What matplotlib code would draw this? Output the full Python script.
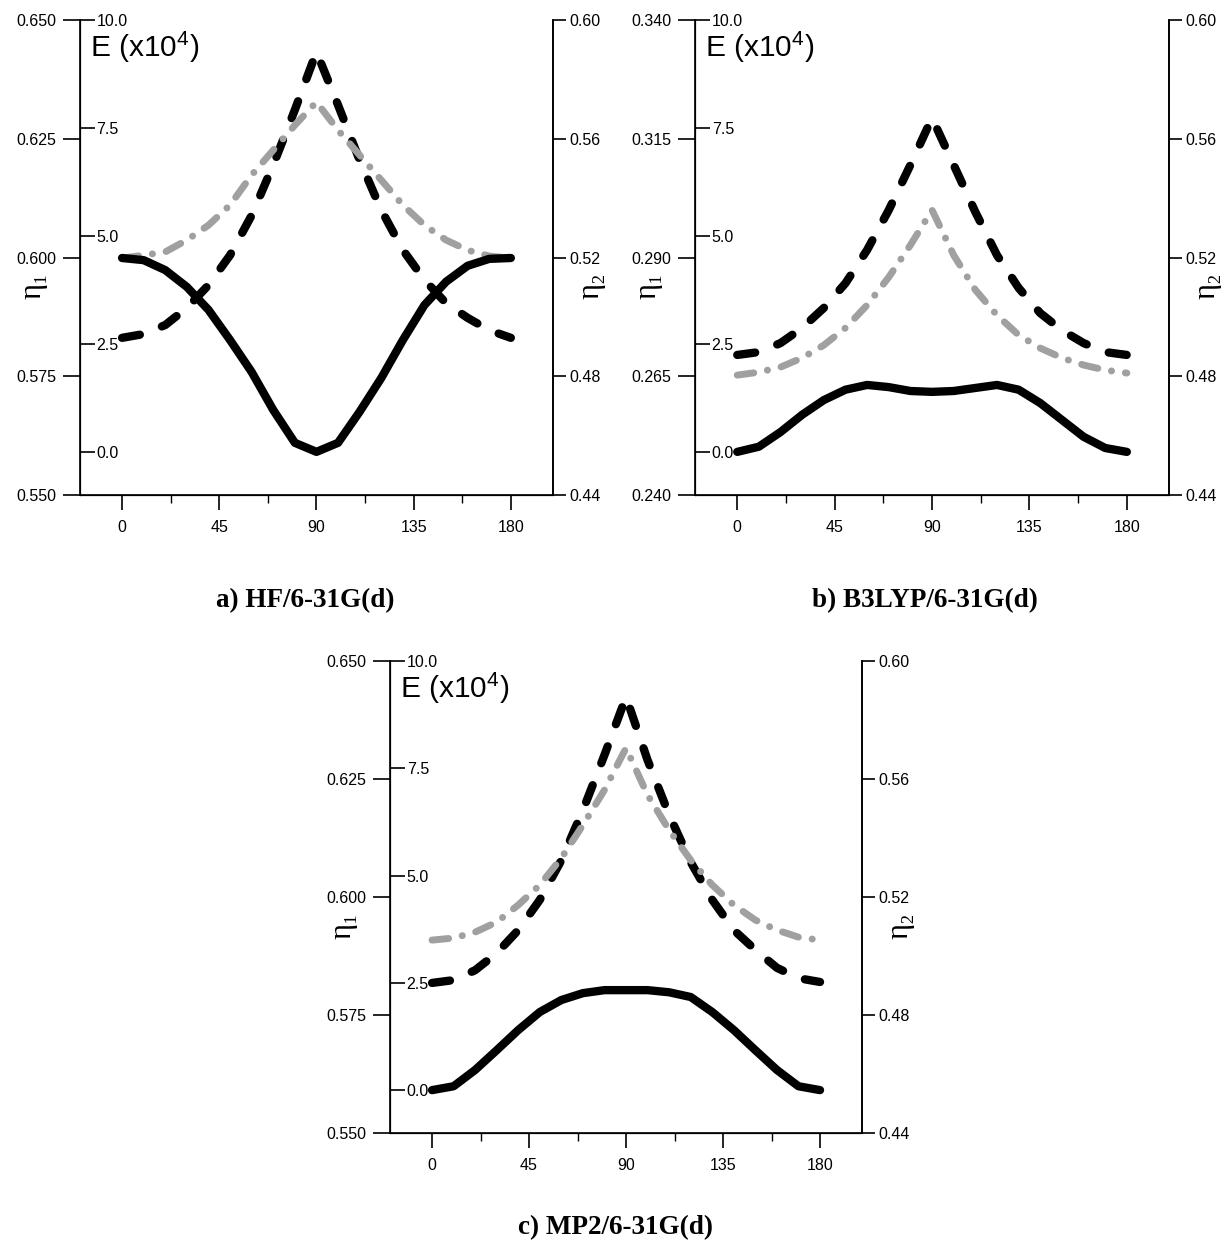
import numpy as np
import matplotlib
matplotlib.use("Agg")
import matplotlib.pyplot as plt
from matplotlib.ticker import FormatStrFormatter, MultipleLocator

plt.rcParams['font.family'] = ['Liberation Sans', 'DejaVu Sans']
plt.rcParams['mathtext.default'] = 'regular'
plt.rcParams['lines.scale_dashes'] = False

# DATA ---------------------------------------------------------------------------------------------
angle = [0, 10, 20, 30, 40, 50, 60, 70, 80, 90, 100, 110, 120, 130, 140, 150, 160, 170, 180]
angle_ticks = [0, 45, 90, 135, 180]
e_ticks = [0.0, 2.5, 5.0, 7.5, 10.0]
eta2_ticks = [0.44, 0.48, 0.52, 0.56, 0.60]

# a) HF/6-31G(d)
hf_energy = [4.49, 4.44, 4.21, 3.82, 3.29, 2.59, 1.85, 0.97, 0.21, 0.0,
             0.21, 0.93, 1.71, 2.59, 3.40, 3.94, 4.31, 4.47, 4.49]
hf_eta1 = [0.5831, 0.5839, 0.5858, 0.5894, 0.5942, 0.6005, 0.6089, 0.6195, 0.6311, 0.6433,
           0.6321, 0.6205, 0.6100, 0.6016, 0.5953, 0.5904, 0.5873, 0.5847, 0.5831]
hf_eta2 = [0.5198, 0.5208, 0.5219, 0.5259, 0.5309, 0.5377, 0.5478, 0.5562, 0.5646, 0.5724,
           0.5629, 0.5545, 0.5461, 0.5377, 0.5309, 0.5259, 0.5225, 0.5205, 0.5198]
hf_eta1_ticks = [0.550, 0.575, 0.600, 0.625, 0.650]

# b) B3LYP/6-31G(d)
b3_energy = [0.0, 0.12, 0.46, 0.86, 1.20, 1.44, 1.55, 1.50, 1.41, 1.39,
             1.41, 1.48, 1.55, 1.44, 1.13, 0.74, 0.35, 0.09, 0.0]
b3_eta1 = [0.2695, 0.2701, 0.2720, 0.2752, 0.2794, 0.2846, 0.2916, 0.3000, 0.3095, 0.3194,
           0.3095, 0.2996, 0.2905, 0.2836, 0.2783, 0.2747, 0.2720, 0.2701, 0.2695]
b3_eta2 = [0.4804, 0.4814, 0.4831, 0.4862, 0.4905, 0.4963, 0.5040, 0.5134, 0.5242, 0.5360,
           0.5208, 0.5091, 0.5006, 0.4939, 0.4895, 0.4862, 0.4838, 0.4821, 0.4811]
b3_eta1_ticks = [0.240, 0.265, 0.290, 0.315, 0.340]

# c) MP2/6-31G(d)
mp2_energy = [0.0, 0.09, 0.47, 0.93, 1.40, 1.82, 2.10, 2.26, 2.33, 2.33,
              2.33, 2.28, 2.17, 1.82, 1.40, 0.93, 0.47, 0.09, 0.0]
mp2_eta1 = [0.5818, 0.5824, 0.5845, 0.5881, 0.5930, 0.5994, 0.6078, 0.6184, 0.6301, 0.6424,
            0.6290, 0.6174, 0.6074, 0.5994, 0.5930, 0.5888, 0.5850, 0.5828, 0.5820]
mp2_eta2 = [0.5054, 0.5061, 0.5081, 0.5115, 0.5173, 0.5241, 0.5332, 0.5444, 0.5563, 0.5705,
            0.5546, 0.5427, 0.5325, 0.5241, 0.5173, 0.5122, 0.5088, 0.5064, 0.5054]
mp2_eta1_ticks = [0.550, 0.575, 0.600, 0.625, 0.650]

titles = ["a) HF/6-31G(d)", "b) B3LYP/6-31G(d)", "c) MP2/6-31G(d)"]


# FUNCTIONS ----------------------------------------------------------------------------------------
SERIF = ['Liberation Serif', 'DejaVu Serif']
TICK_FS = 11.5

def make_panel(fig, rect, energy, eta1, eta2, eta1_ticks):
    ax = fig.add_axes(rect)
    ax2 = ax.twinx()   # eta2, right
    ax3 = ax.twinx()   # E, drawn on the left spine, labels inside

    # left eta1 axis
    ax.set_xlim(-19.5, 199.5)
    ax.set_ylim(eta1_ticks[0], eta1_ticks[-1])
    ax.set_yticks(eta1_ticks)
    ax.yaxis.set_major_formatter(FormatStrFormatter('%.3f'))
    ax.set_xticks(angle_ticks)
    ax.xaxis.set_minor_locator(MultipleLocator(22.5))
    ax.spines['top'].set_visible(False)
    ax.tick_params(axis='y', direction='out', length=12, width=1.2, pad=5, labelsize=TICK_FS)
    ax.tick_params(axis='x', which='major', direction='out', length=11, width=1.2, pad=7,
                   labelsize=TICK_FS)
    ax.tick_params(axis='x', which='minor', direction='out', length=6, width=1.0)
    for s in ['left', 'bottom', 'right']:
        ax.spines[s].set_linewidth(1.2)

    # right eta2 axis
    ax2.set_ylim(eta2_ticks[0], eta2_ticks[-1])
    ax2.set_yticks(eta2_ticks)
    ax2.yaxis.set_major_formatter(FormatStrFormatter('%.2f'))
    ax2.tick_params(axis='y', direction='out', length=9, width=1.2, pad=3, labelsize=TICK_FS)
    ax2.spines['top'].set_visible(False)
    ax2.spines['right'].set_linewidth(1.2)

    # inner energy axis
    ax3.set_ylim(-1.0, 10.0)
    ax3.set_yticks(e_ticks)
    ax3.yaxis.set_major_formatter(FormatStrFormatter('%.1f'))
    ax3.spines['right'].set_position(('axes', 0))
    ax3.spines['right'].set_visible(False)
    ax3.spines['top'].set_visible(False)
    ax3.tick_params(axis='y', direction='out', length=11, width=1.2, pad=1, labelsize=TICK_FS)

    # curves
    ax2.plot(angle, eta2, color='#a0a0a0', lw=5, dashes=(12, 10, 0.1, 10),
             dash_capstyle='round', solid_capstyle='round')
    ax.plot(angle, eta1, color='black', lw=6, dashes=(13, 17),
            dash_capstyle='round', solid_capstyle='round')
    ax3.plot(angle, energy, color='black', lw=6, solid_capstyle='round',
             solid_joinstyle='round')

    # labels
    ax3.text(0.022, 0.942, 'E (x10$^{4}$)', transform=ax.transAxes, fontsize=21.5,
             ha='left', va='center')
    ax.text(-0.1, 0.44, 'η₁', transform=ax.transAxes, rotation=90, fontsize=22,
            family=SERIF, ha='center', va='center')
    ax.text(1.08, 0.44, 'η₂', transform=ax.transAxes, rotation=90, fontsize=22,
            family=SERIF, ha='center', va='center')
    return ax


# MATPLOTLIB ---------------------------------------------------------------------------------------
fig = plt.figure(figsize=(12.28, 12.47), dpi=100)

make_panel(fig, [0.0651, 0.6030, 0.3852, 0.3809], hf_energy, hf_eta1, hf_eta2, hf_eta1_ticks)
make_panel(fig, [0.5660, 0.6030, 0.3860, 0.3809], b3_energy, b3_eta1, b3_eta2, b3_eta1_ticks)
make_panel(fig, [0.3176, 0.0914, 0.3844, 0.3785], mp2_energy, mp2_eta1, mp2_eta2, mp2_eta1_ticks)

fig.text(305 / 1228, 1 - 601 / 1247, titles[0], family=SERIF, weight='bold', fontsize=19.5,
         ha='center', va='center')
fig.text(925 / 1228, 1 - 601 / 1247, titles[1], family=SERIF, weight='bold', fontsize=19.5,
         ha='center', va='center')
fig.text(615 / 1228, 1 - 1228 / 1247, titles[2], family=SERIF, weight='bold', fontsize=19.5,
         ha='center', va='center')

fig.savefig('out.png', dpi=100)
